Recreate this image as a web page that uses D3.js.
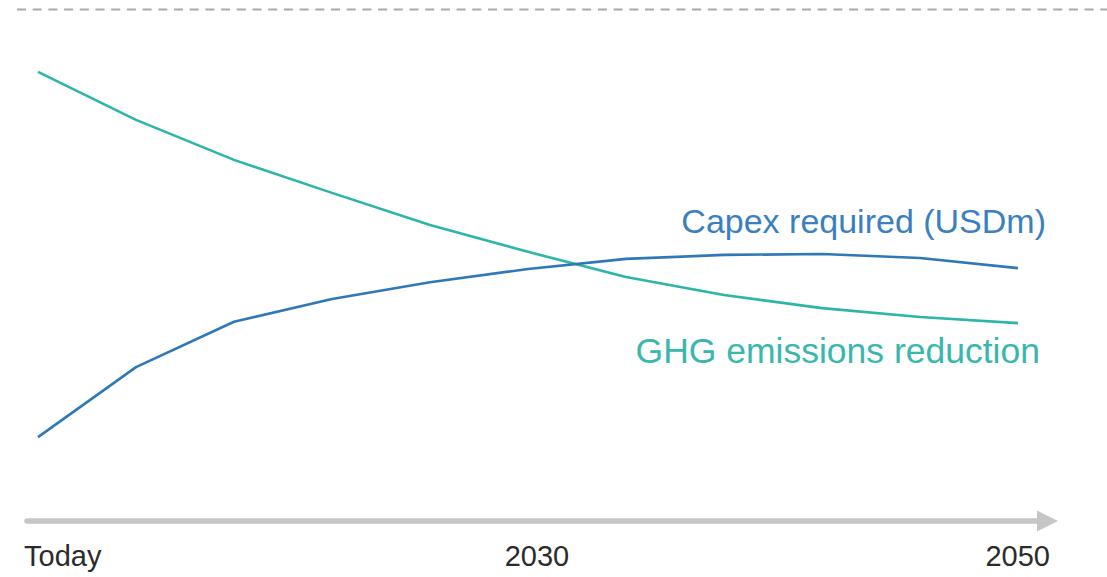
<!DOCTYPE html>
<html>
<head>
<meta charset="utf-8">
<script src="https://cdn.jsdelivr.net/npm/d3@7"></script>
<style>
  html, body { margin: 0; padding: 0; background: #fff; }
  svg { display: block; }
  text { font-family: "Liberation Sans", Arial, sans-serif; }
</style>
</head>
<body>
<svg id="chart" width="1107" height="577"></svg>
<script>
// Time steps from today to 2050
const steps = [0, 1, 2, 3, 4, 5, 6, 7, 8, 9, 10];
// Indexed values (0–100) for each series
const capexValues = [14.3, 30.2, 40.5, 45.7, 49.5, 52.5, 54.8, 55.7, 55.9, 55.0, 52.7];
const ghgValues   = [97.3, 86.4, 77.3, 69.8, 62.5, 56.4, 50.7, 46.6, 43.6, 41.6, 40.2];
// Timeline labels
const tickLabels = ["Today", "2030", "2050"];
const seriesNames = ["Capex required (USDm)", "GHG emissions reduction"];

const blue = "#2f78b7";
const teal = "#2db5a9";

const svg = d3.select("#chart");

const x = d3.scalePoint().domain(steps).range([38, 1018]);
const y = d3.scaleLinear().domain([0, 100]).range([500, 60]);

// Dashed separator along the top
svg.append("line")
  .attr("x1", 17).attr("x2", 1107)
  .attr("y1", 9.5).attr("y2", 9.5)
  .attr("stroke", "#a9a9a9")
  .attr("stroke-width", 2)
  .attr("stroke-dasharray", "9,6.7");

const line = d3.line()
  .x((d, i) => x(steps[i]))
  .y(d => y(d))
  .curve(d3.curveLinear);

svg.append("path")
  .datum(ghgValues)
  .attr("d", line)
  .attr("fill", "none")
  .attr("stroke", teal)
  .attr("stroke-width", 2.6)
  .attr("stroke-linejoin", "round");

svg.append("path")
  .datum(capexValues)
  .attr("d", line)
  .attr("fill", "none")
  .attr("stroke", blue)
  .attr("stroke-width", 2.6)
  .attr("stroke-linejoin", "round");

// Series labels
svg.append("text")
  .attr("x", 1046).attr("y", 233)
  .attr("text-anchor", "end")
  .attr("font-size", 34)
  .attr("fill", "#3a7fbf")
  .text(seriesNames[0]);

svg.append("text")
  .attr("x", 1040).attr("y", 363)
  .attr("text-anchor", "end")
  .attr("font-size", 35.5)
  .attr("fill", "#3ab7ad")
  .text(seriesNames[1]);

// Timeline arrow
const axisY = 521;
svg.append("line")
  .attr("x1", 27).attr("x2", 1040)
  .attr("y1", axisY).attr("y2", axisY)
  .attr("stroke", "#c6c6c6")
  .attr("stroke-width", 5.5)
  .attr("stroke-linecap", "round");
svg.append("path")
  .attr("d", `M1037,${axisY - 10.5} L1058,${axisY} L1037,${axisY + 10.5} Z`)
  .attr("fill", "#c6c6c6");

// Timeline labels
const tx = d3.scalePoint().domain(tickLabels).range([24, 1050]);
const anchors = ["start", "middle", "end"];
svg.selectAll("text.tick")
  .data(tickLabels)
  .join("text")
  .attr("class", "tick")
  .attr("x", d => tx(d))
  .attr("y", 566)
  .attr("text-anchor", (d, i) => anchors[i])
  .attr("font-size", 29)
  .attr("fill", "#2b2b2b")
  .text(d => d);
</script>
</body>
</html>
